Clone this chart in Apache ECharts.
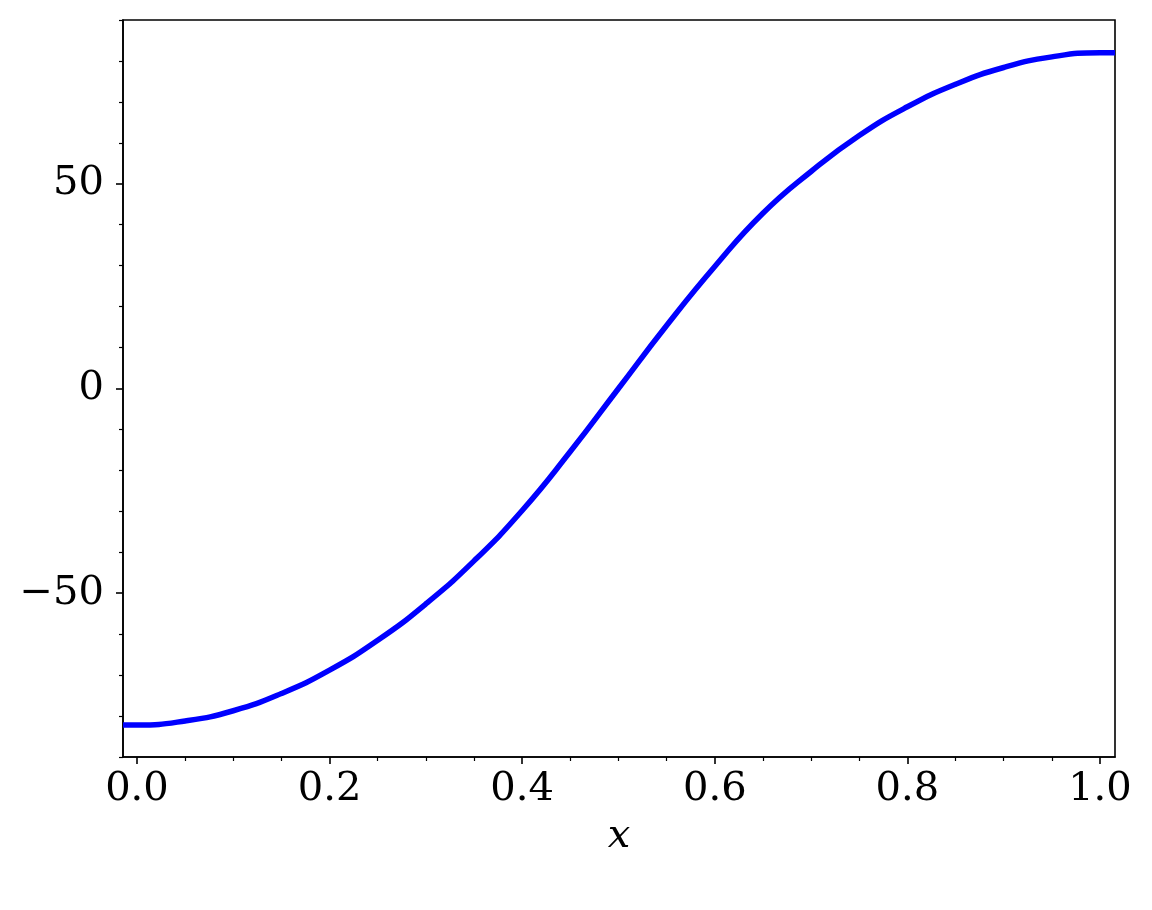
<!DOCTYPE html>
<html>
<head>
<meta charset="utf-8">
<script src="https://cdn.jsdelivr.net/npm/echarts@6/dist/echarts.min.js"></script>
<style>
html,body{margin:0;padding:0;background:#fff;}
#chart{width:1152px;height:910px;}
</style>
</head>
<body>
<div id="chart"></div>
<script>
// Data
const xValues = [-0.0145, 0.00, 0.05, 0.10, 0.15, 0.20, 0.25, 0.30, 0.35, 0.40, 0.45, 0.50, 0.55, 0.60, 0.65, 0.70, 0.75, 0.80, 0.85, 0.90, 0.95, 1.00, 1.0156];
const yValues = [-82.2, -82.2, -81.2, -78.7, -74.5, -68.8, -61.5, -52.6, -42.1, -29.8, -15.4, 0.0, 15.4, 29.8, 42.8, 53.0, 61.8, 68.8, 74.3, 78.4, 81.0, 82.0, 82.0];
const xMajorTicks = [0.0, 0.2, 0.4, 0.6, 0.8, 1.0];
const xMinorTicks = [0.05, 0.10, 0.15, 0.25, 0.30, 0.35, 0.45, 0.50, 0.55, 0.65, 0.70, 0.75, 0.85, 0.90, 0.95];
const yMajorTicks = [-50, 0, 50];
const yMinorTicks = [-90, -80, -70, -60, -40, -30, -20, -10, 10, 20, 30, 40, 60, 70, 80, 90];
const xRange = [-0.0145, 1.0156];
const yRange = [-90, 90];
const xName = 'x';

const seriesData = xValues.map((x, i) => [x, yValues[i]]);
const FONT = 'DejaVu Serif';
const labelStyle = { fontFamily: FONT, fontSize: 40, color: '#000' };

const chart = echarts.init(document.getElementById('chart'), null, { renderer: 'canvas' });
chart.setOption({
  animation: false,
  backgroundColor: '#fff',
  grid: { left: 123, right: 37, top: 20, bottom: 153, show: true, borderColor: '#000', borderWidth: 1.6, backgroundColor: 'transparent' },
  xAxis: [
    {
      type: 'value', min: xRange[0], max: xRange[1], position: 'bottom',
      name: xName, nameLocation: 'middle', nameGap: 60,
      nameTextStyle: { fontFamily: FONT, fontSize: 40, fontStyle: 'italic', color: '#000' },
      axisLine: { show: true, onZero: false, lineStyle: { color: '#000', width: 1.6 } },
      axisTick: { show: true, inside: false, length: 7, lineStyle: { color: '#000', width: 1.6 }, customValues: xMajorTicks },
      axisLabel: Object.assign({ margin: 13, customValues: xMajorTicks, formatter: v => v.toFixed(1) }, labelStyle),
      splitLine: { show: false }
    },
    {
      type: 'value', min: xRange[0], max: xRange[1], position: 'bottom', gridIndex: 0,
      axisLine: { show: false, onZero: false },
      axisTick: { show: true, inside: false, length: 4, lineStyle: { color: '#000', width: 1.2 }, customValues: xMinorTicks },
      axisLabel: { show: false },
      splitLine: { show: false }
    }
  ],
  yAxis: [
    {
      type: 'value', min: yRange[0], max: yRange[1], position: 'left',
      axisLine: { show: true, onZero: false, lineStyle: { color: '#000', width: 1.6 } },
      axisTick: { show: true, inside: false, length: 7, lineStyle: { color: '#000', width: 1.6 }, customValues: yMajorTicks },
      axisLabel: Object.assign({ margin: 19, customValues: yMajorTicks, formatter: v => (v < 0 ? '\u2212' + Math.abs(v) : String(v)) }, labelStyle),
      splitLine: { show: false }
    },
    {
      type: 'value', min: yRange[0], max: yRange[1], position: 'left', offset: 0,
      axisLine: { show: false, onZero: false },
      axisTick: { show: true, inside: false, length: 4, lineStyle: { color: '#000', width: 1.2 }, customValues: yMinorTicks },
      axisLabel: { show: false },
      splitLine: { show: false }
    }
  ],
  series: [
    {
      type: 'line', xAxisIndex: 0, yAxisIndex: 0,
      data: seriesData, showSymbol: false, symbol: 'none',
      smooth: 0.5, clip: true,
      lineStyle: { color: '#0000ff', width: 5.5 }
    }
  ]
});
</script>
</body>
</html>
